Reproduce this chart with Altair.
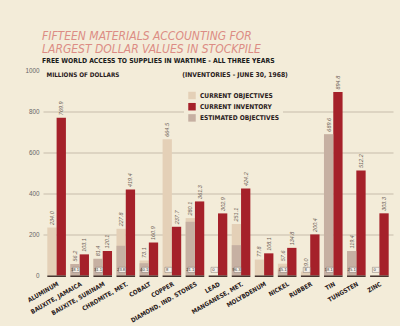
import altair as alt
import pandas as pd

materials = ["ALUMINUM", "BAUXITE, JAMAICA", "BAUXITE, SURINAM", "CHROMITE, MET.",
             "COBALT", "COPPER", "DIAMOND, IND. STONES", "LEAD", "MANGANESE, MET.",
             "MOLYBDENUM", "NICKEL", "RUBBER", "TIN", "TUNGSTEN", "ZINC"]
current_objectives = [234.0, 56.2, 81.4, 227.8, 73.1, 664.5, 280.1, 0.0, 251.1,
                      77.8, 57.6, 19.0, 689.6, 119.4, 0.0]
current_inventory = [769.9, 103.1, 120.1, 419.4, 160.9, 237.7, 361.3, 302.9, 424.2,
                     108.1, 134.8, 200.4, 894.8, 512.2, 303.3]
estimated_objectives = [0.0, 56.2, 81.4, 145.0, 60.0, 0.0, 262.0, 0.0, 148.0,
                        0.0, 30.0, 0.0, 689.6, 119.4, 0.0]
box_labels = ["", "18.1", "31.1", "23.8", "40.1", "8", "21.1", "0", "96.3",
              "", "15.1", "8", "18.1", "25.1", "0"]
y_ticks = [0, 100, 200, 300, 400, 500, 600, 700, 800, 900, 1000]

keys = ["CURRENT OBJECTIVES", "CURRENT INVENTORY", "ESTIMATED OBJECTIVES"]
colors = ["#e4d0b7", "#a5212a", "#c6b0a2"]
BG = "#f3ecd9"
NARROW = "Liberation Sans Narrow, DejaVu Sans Condensed, Liberation Sans"

rows = []
for m, o, i in zip(materials, current_objectives, current_inventory):
    rows.append({"material": m, "series": "obj", "value": o, "key": keys[0],
                 "label": ("%.1f" % o) if o > 0 else ""})
    rows.append({"material": m, "series": "inv", "value": i, "key": keys[1],
                 "label": "%.1f" % i})
bars_df = pd.DataFrame(rows)
est_df = pd.DataFrame({"material": materials, "series": "obj",
                       "value": estimated_objectives, "key": keys[2]})
box_df = pd.DataFrame({"material": materials, "series": "obj", "box": box_labels})
box_df = box_df[box_df["box"] != ""]
base_df = pd.DataFrame({"material": materials})

x_enc = alt.X("material:N", sort=materials,
              scale=alt.Scale(paddingInner=0.193, paddingOuter=0.187),
              axis=alt.Axis(title="(INVENTORIES - JUNE 30, 1968)", labelAngle=-30,
                            labelFont=NARROW,
                            labelFontWeight="bold", labelFontSize=6.2, labelColor="#2a2020",
                            labelPadding=5, ticks=False, domain=False, labelLimit=200,
                            titleX=138.7, titleY=-199, titleAlign="left",
                            titleBaseline="alphabetic", titleAnchor="start",
                            titleFont=NARROW,
                            titleFontSize=6.7, titleFontWeight="bold", titleColor="#2a2020"))
xo_enc = alt.XOffset("series:N", scale=alt.Scale(domain=["obj", "inv"], paddingInner=0, paddingOuter=0))
y_scale = alt.Scale(domain=[0, 1000], nice=False)
y_enc = alt.Y("value:Q", scale=y_scale,
              axis=alt.Axis(title="MILLIONS OF DOLLARS", values=y_ticks, format="d", titleAngle=0,
                            titleX=3, titleY=6, titleAlign="left", titleBaseline="alphabetic",
                            titleFont=NARROW,
                            titleFontSize=6.3, titleFontWeight="bold", titleColor="#2a2020",
                            labelFont="Liberation Sans", labelFontSize=6.3, labelColor="#666666",
                            labelPadding=4, ticks=False, domain=False,
                            gridColor="#d6ccba", gridWidth=1.5,
                            gridOpacity={"condition": {"test": "datum.value == 0 || datum.value == 1000", "value": 0}, "value": 1}))
color_enc = alt.Color("key:N", scale=alt.Scale(domain=keys, range=colors),
                      legend=alt.Legend(title=None, orient="none", legendX=141, legendY=17,
                                        symbolType="square", symbolSize=56, symbolStrokeWidth=0,
                                        labelFont=NARROW,
                                        labelFontSize=6.6, labelFontWeight="bold", labelColor="#2a2020",
                                        labelOffset=4, rowPadding=3.2, padding=4,
                                        fillColor=BG))

bars = alt.Chart(bars_df).mark_bar().encode(x=x_enc, xOffset=xo_enc, y=y_enc, color=color_enc)
est = alt.Chart(est_df).mark_bar().encode(x=x_enc, xOffset=xo_enc, y=y_enc, color=color_enc)
labels = alt.Chart(bars_df).mark_text(angle=270, align="left", baseline="middle", dx=2.5,
                                      fontSize=5.5, fontStyle="italic", color="#6b5c55",
                                      font="Liberation Sans").encode(
    x=x_enc, xOffset=xo_enc, y=y_enc, text="label:N")
boxes = alt.Chart(box_df).mark_bar(width=alt.RelativeBandSize(0.75), color="#f7f2ea",
                                   stroke="#6b5c55", strokeWidth=0.4).encode(
    x=x_enc, xOffset=xo_enc, y=alt.datum(15, scale=y_scale), y2=alt.datum(40))
box_text = alt.Chart(box_df).mark_text(fontSize=4.2, color="#333333", baseline="middle",
                                       font="Liberation Sans").encode(
    x=x_enc, xOffset=xo_enc, y=alt.datum(27.5, scale=y_scale), text="box:N")
base = alt.Chart(base_df).mark_bar(color="#3a2a25").encode(
    x=x_enc, y=alt.datum(0, scale=y_scale), y2=alt.datum(-7))

chart = alt.layer(bars, est, labels, boxes, box_text, base).properties(
    width=350, height=205, autosize="none",
    padding={"left": 43, "top": 70.5, "right": 7, "bottom": 50.5},
    background=BG,
    title=alt.TitleParams(
        text=["FIFTEEN MATERIALS ACCOUNTING FOR", "LARGEST DOLLAR VALUES IN STOCKPILE"],
        anchor="start", frame="group", dx=-1, offset=2,
        font=NARROW,
        fontSize=12, fontStyle="italic", fontWeight="normal", color="#dc8c84",
        lineHeight=12.5,
        subtitle="FREE WORLD ACCESS TO SUPPLIES IN WARTIME - ALL THREE YEARS",
        subtitleFont=NARROW,
        subtitleFontSize=6.8, subtitleFontWeight="bold", subtitleColor="#1a1a1a",
        subtitlePadding=2)
).configure_view(stroke=None)

chart.save("out.html", embed_options={"renderer": "svg", "actions": False})
